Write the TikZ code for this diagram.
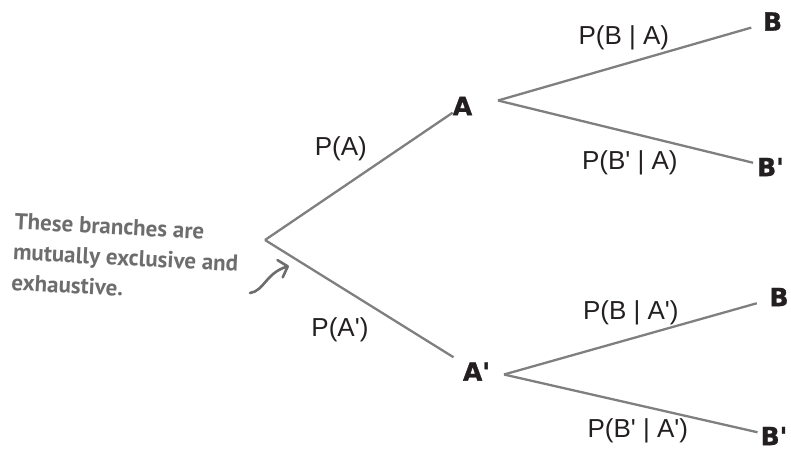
\documentclass[tikz,border=0pt]{standalone}
\usepackage{fontspec}
\setmainfont{Liberation Sans}
\newfontfamily\eventfont{DejaVu Sans Bold}[FakeBold=1.2]
\newfontfamily\notefont{PT Sans}
\usetikzlibrary{positioning,arrows.meta}
\definecolor{branchgray}{HTML}{7F7F7F}
\definecolor{inkblack}{HTML}{231F20}
\definecolor{notegray}{HTML}{6D6D6D}
\begin{document}
\begin{tikzpicture}[x=1pt,y=-1pt,event/.style={inner sep=0pt,text=inkblack,font=\eventfont\fontsize{25}{25}\selectfont},prob/.style={inner sep=0pt,text=inkblack,font=\fontsize{26}{26}\selectfont},branch/.style={draw=branchgray,line width=2.3pt},note/.style={inner sep=0pt,text=notegray,align=left,rotate=-3,font=\notefont\bfseries\fontsize{23}{30.5}\selectfont}]
\useasboundingbox (0,0) rectangle (791,448);
\coordinate (root) at (265,240);
\coordinate (forkA) at (498,100.5);
\coordinate (forkAc) at (504,374.5);
\node[event] (A) at (462.5,106) {A};
\node[event] (Ac) at (476.5,371.5) {A\textquotesingle};
\node[event] (BA) at (772.5,21.5) {B};
\node[event] (BcA) at (770.5,167) {B\textquotesingle};
\node[event] (BAc) at (779,297) {B};
\node[event] (BcAc) at (774,436) {B\textquotesingle};
\draw[branch] (root) -- node[prob,pos=.404,above=26.5pt]{P(A)} (A);
\draw[branch,shorten >=11pt] (root) -- node[prob,pos=.379,below=30pt]{P(A\textquotesingle)} (Ac);
\draw[branch,shorten >=12pt] (forkA) -- node[prob,pos=.475,above=13.4pt]{P(B | A)} (BA);
\draw[branch,shorten >=4pt] (forkA) -- node[prob,pos=.509,below=16.5pt]{P(B\textquotesingle\ | A)} (BcA);
\draw[branch,shorten >=13pt] (forkAc) -- node[prob,pos=.478,above=12.9pt]{P(B | A\textquotesingle)} (BAc);
\draw[branch,shorten >=3pt] (forkAc) -- node[prob,pos=.522,below=12.5pt]{P(B\textquotesingle\ | A\textquotesingle)} (BcAc);
\node[note,anchor=north west] (note) at (15,213) {These branches are\\mutually exclusive and\\exhaustive.};
\coordinate (tail) at (250,293);
\coordinate (tip) at (289,266);
\draw[draw=notegray,line width=2.6pt,line cap=round,-{Straight Barb[length=8pt,width=18pt,round]}] (tail) .. controls (264,291) and (266,273) .. (tip);
\end{tikzpicture}
\end{document}
